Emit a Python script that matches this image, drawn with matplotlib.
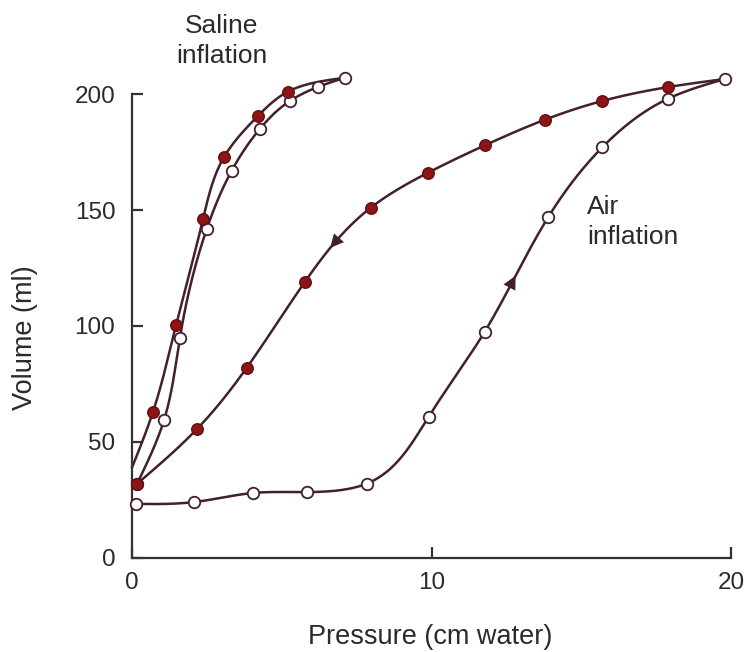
import numpy as np
import matplotlib.pyplot as plt

plt.rcParams['font.family'] = ['Liberation Sans', 'DejaVu Sans']

# ------------------------------------------------------------------
# Datos (presion cm agua, volumen ml)
# ------------------------------------------------------------------
sal_inf_p = [0.17, 1.07, 1.6, 2.5, 3.33, 4.27, 5.27, 6.2, 7.1]
sal_inf_v = [32, 59.5, 95, 142, 167, 185, 197, 203, 207]

sal_def_p = [5.2, 4.2, 3.07, 2.37, 1.47, 0.7]
sal_def_v = [201, 190.5, 172.8, 146, 100.4, 63]
sal_def_end_p = 0.0   # la curva llega al eje sin marcador
sal_def_end_v = 39

air_inf_p = [0.13, 2.07, 4.03, 5.83, 7.83, 9.9, 11.77, 13.9, 15.7, 17.9, 19.8]
air_inf_v = [23.3, 24.1, 28, 28.4, 32, 60.8, 97.4, 147, 177, 198, 206.5]

air_def_p = [17.9, 15.7, 13.8, 11.8, 9.87, 7.97, 5.77, 3.83, 2.17, 0.17]
air_def_v = [203, 197, 189, 178, 166, 151, 119, 82, 55.6, 32]

# puntos donde aparecen las flechas
arrow_def = (6.87, 136)
arrow_inf = (12.5, 119)

LINE = '#43202a'
FILL = '#8e1416'
TXT = '#2a2a2a'


def natural_spline(t, y, tt):
    # spline cubica natural 1D
    n = len(t)
    h = np.diff(t)
    A = np.zeros((n, n))
    r = np.zeros(n)
    A[0, 0] = A[-1, -1] = 1
    for i in range(1, n - 1):
        A[i, i - 1] = h[i - 1]
        A[i, i] = 2 * (h[i - 1] + h[i])
        A[i, i + 1] = h[i]
        r[i] = 6 * ((y[i + 1] - y[i]) / h[i] - (y[i] - y[i - 1]) / h[i - 1])
    M = np.linalg.solve(A, r)
    k = np.clip(np.searchsorted(t, tt) - 1, 0, n - 2)
    a = t[k + 1] - tt
    b = tt - t[k]
    hk = h[k]
    return (M[k] * a ** 3 / (6 * hk) + M[k + 1] * b ** 3 / (6 * hk)
            + (y[k] / hk - M[k] * hk / 6) * a + (y[k + 1] / hk - M[k + 1] * hk / 6) * b)


def smooth(xs, ys, n=400):
    xs = np.asarray(xs, float)
    ys = np.asarray(ys, float)
    d = np.hypot(np.diff(xs) / 20.0, np.diff(ys) / 200.0)
    t = np.concatenate([[0], np.cumsum(d)])
    tt = np.linspace(0, t[-1], n)
    return natural_spline(t, xs, tt), natural_spline(t, ys, tt)


def add_arrow(ax, cx, cy, pt):
    d = np.hypot((cx - pt[0]) / 20.0, (cy - pt[1]) / 200.0)
    i = int(np.argmin(d))
    i = min(max(i, 6), len(cx) - 7)
    ax.annotate('', xy=(cx[i + 5], cy[i + 5]), xytext=(cx[i - 5], cy[i - 5]),
                arrowprops=dict(arrowstyle='-|>', color=LINE, lw=0,
                                mutation_scale=24, shrinkA=0, shrinkB=0))


fig = plt.figure(figsize=(7.51, 6.52), dpi=100)
ax = fig.add_axes([0.1758, 0.1442, 0.7976, 0.7116])

# curvas de solucion salina
x, y = smooth(sal_inf_p, sal_inf_v)
ax.plot(x, y, color=LINE, lw=1.8, zorder=2)
x, y = smooth([sal_inf_p[-1]] + sal_def_p + [sal_def_end_p],
              [sal_inf_v[-1]] + sal_def_v + [sal_def_end_v])
ax.plot(x, y, color=LINE, lw=1.8, zorder=2)

# curvas de aire
x, y = smooth(air_inf_p, air_inf_v)
ax.plot(x, y, color=LINE, lw=1.8, zorder=2)
add_arrow(ax, x, y, arrow_inf)
x, y = smooth([air_inf_p[-1]] + air_def_p, [air_inf_v[-1]] + air_def_v)
ax.plot(x, y, color=LINE, lw=1.8, zorder=2)
add_arrow(ax, x, y, arrow_def)

# marcadores
for px, vy in [(sal_inf_p, sal_inf_v), (air_inf_p, air_inf_v)]:
    ax.plot(px, vy, 'o', ms=8.3, mfc='white', mec=LINE, mew=1.3, ls='none', zorder=3)
for px, vy in [(sal_def_p, sal_def_v), (air_def_p, air_def_v)]:
    ax.plot(px, vy, 'o', ms=8.3, mfc=FILL, mec='#5e1012', mew=1.0, ls='none', zorder=3)

ax.set_xlim(0, 20)
ax.set_ylim(0, 200)
ax.set_xticks([0, 10, 20])
ax.set_yticks([0, 50, 100, 150, 200])
for s in ['top', 'right']:
    ax.spines[s].set_visible(False)
for s in ['left', 'bottom']:
    ax.spines[s].set_linewidth(1.6)
    ax.spines[s].set_color('#333333')
ax.tick_params(direction='in', length=8, width=1.6, colors='#333333',
               labelsize=17.5, labelcolor=TXT)
ax.tick_params(axis='x', pad=10)
ax.tick_params(axis='y', pad=12)
for ln in ax.lines:
    ln.set_clip_on(False)

ax.set_xlabel('Pressure (cm water)', fontsize=19.5, color=TXT, va='center')
ax.set_ylabel('Volume (ml)', fontsize=19.5, color=TXT, va='center')
ax.xaxis.set_label_coords(0.4975, -0.17)
ax.yaxis.set_label_coords(-0.1786, 0.474)

ax.text(3.0, 222.8, 'Saline\ninflation', fontsize=19, ha='center', va='center',
        color=TXT, linespacing=1.3)
ax.text(15.2, 144.8, 'Air\ninflation', fontsize=19, ha='left', va='center',
        color=TXT, linespacing=1.3)

fig.savefig('out.png', dpi=100)
